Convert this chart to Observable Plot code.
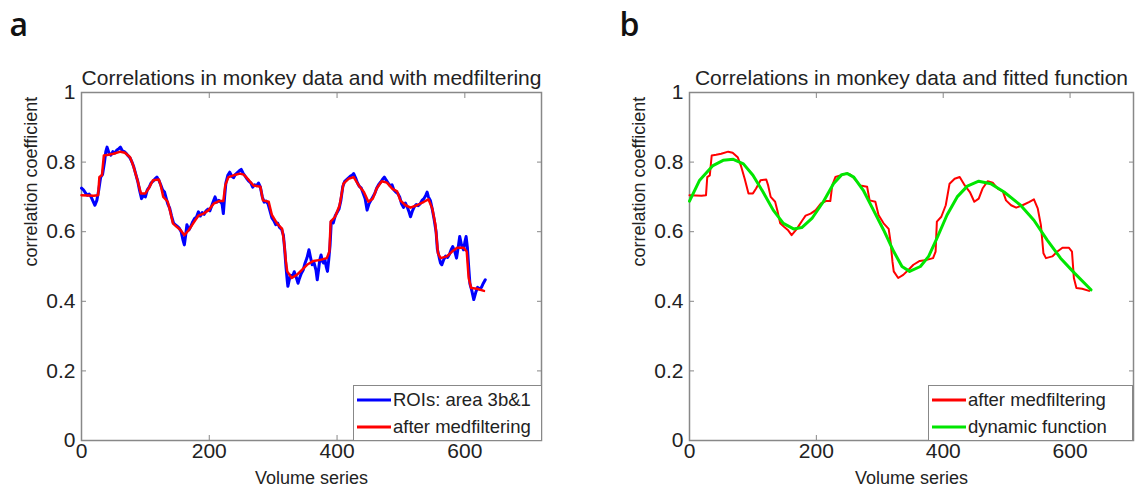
<!DOCTYPE html>
<html><head><meta charset="utf-8">
<script src="https://cdn.jsdelivr.net/npm/d3@7"></script>
<script src="https://cdn.jsdelivr.net/npm/@observablehq/plot@0.6"></script>
<style>
body{margin:0;background:#fff;}
#root{position:relative;width:1139px;height:496px;overflow:hidden;font-family:"Liberation Sans",Arial,sans-serif;}
.panel{position:absolute;top:0;}
.legend{position:absolute;box-sizing:border-box;border:1.5px solid #888;background:#fff;font-family:"Liberation Sans",Arial,sans-serif;font-size:18.5px;color:#222;}
.row{position:absolute;left:0;display:flex;align-items:center;white-space:nowrap;}
.row svg{display:block;margin-left:3px;margin-right:2px;}
</style></head>
<body><div id="root"></div>
<script>
// ---------- data ----------
const panelTags = ["a", "b"];
const titles = ["Correlations in monkey data and with medfiltering", "Correlations in monkey data and fitted function"];
const xLabel = "Volume series";
const yLabel = "correlation coefficient";
const xTicks = [0, 200, 400, 600];
const yTicks = [0, 0.2, 0.4, 0.6, 0.8, 1];
const legendA = ["ROIs: area 3b&1", "after medfiltering"];
const legendB = ["after medfiltering", "dynamic function"];

// raw correlation series (blue)
const rawX = [0,3,6,9,12,15,18,21,24,27,30,33,36,38,40,43,46,49,52,55,58,61,64,67,70,73,76,79,82,85,88,91,94,97,100,103,106,109,112,115,118,121,124,127,130,132,135,138,141,144,147,150,153,156,159,161,163,165,168,171,174,177,180,183,186,189,192,195,198,201,204,207,209,212,215,218,220,222,224,226,229,232,235,238,241,244,247,250,253,256,259,262,265,268,271,274,277,280,283,286,289,292,295,298,301,304,307,310,313,316,318,320,322,323,325,327,330,333,336,339,341,344,347,350,353,356,358,361,364,367,369,371,373,375,377,379,381,383,385,387,389,391,394,397,400,403,406,409,412,415,418,421,424,426,429,432,435,438,441,444,447,450,453,456,459,462,465,468,471,474,477,480,483,486,489,492,495,498,501,504,507,510,513,515,518,521,524,527,530,533,536,539,541,543,546,549,552,555,557,560,562,564,567,570,573,576,579,581,584,587,590,592,595,598,600,602,604,606,608,611,614,617,620,623,626,629,632];
const rawY = [0.725,0.72,0.712,0.705,0.708,0.70,0.688,0.676,0.69,0.72,0.757,0.765,0.80,0.83,0.843,0.826,0.82,0.83,0.826,0.834,0.838,0.843,0.832,0.83,0.825,0.818,0.812,0.80,0.785,0.765,0.745,0.718,0.695,0.705,0.70,0.72,0.728,0.74,0.745,0.752,0.757,0.748,0.735,0.72,0.714,0.70,0.68,0.668,0.645,0.625,0.62,0.615,0.61,0.60,0.575,0.562,0.59,0.62,0.605,0.615,0.628,0.638,0.642,0.657,0.645,0.655,0.65,0.66,0.665,0.66,0.675,0.69,0.70,0.685,0.69,0.685,0.68,0.652,0.70,0.74,0.762,0.771,0.76,0.755,0.765,0.77,0.775,0.779,0.768,0.76,0.752,0.745,0.74,0.728,0.735,0.732,0.74,0.728,0.70,0.685,0.688,0.68,0.66,0.64,0.632,0.62,0.625,0.612,0.608,0.59,0.55,0.50,0.46,0.443,0.46,0.475,0.47,0.485,0.47,0.452,0.465,0.48,0.49,0.51,0.525,0.548,0.53,0.505,0.51,0.49,0.462,0.49,0.52,0.533,0.515,0.51,0.52,0.50,0.486,0.52,0.56,0.63,0.625,0.645,0.655,0.665,0.69,0.73,0.745,0.75,0.755,0.76,0.763,0.767,0.755,0.74,0.73,0.725,0.71,0.695,0.662,0.68,0.69,0.70,0.71,0.725,0.735,0.742,0.75,0.757,0.748,0.74,0.732,0.735,0.72,0.714,0.71,0.70,0.68,0.67,0.682,0.67,0.655,0.643,0.66,0.672,0.678,0.675,0.68,0.69,0.695,0.705,0.714,0.70,0.69,0.665,0.635,0.60,0.55,0.525,0.51,0.505,0.52,0.53,0.526,0.535,0.55,0.557,0.545,0.524,0.56,0.586,0.56,0.548,0.57,0.586,0.555,0.50,0.45,0.43,0.405,0.425,0.44,0.435,0.44,0.452,0.462];

// median-filtered series (red)
const medX = [0,19,26,28,32,35,42,50,61,68,76,81,87,93,100,105,112,121,124,128,135,139,143,149,155,161,168,173,178,183,191,199,207,215,222,225,230,238,248,254,262,269,280,284,293,298,306,314,317,320,322,329,337,345,353,363,374,384,388,390,397,404,410,418,426,434,442,449,456,462,470,478,486,494,499,507,515,525,536,543,549,554,558,562,572,580,588,598,603,606,610,619,630];
const medY = [0.705,0.703,0.705,0.757,0.762,0.819,0.821,0.824,0.830,0.827,0.814,0.790,0.752,0.710,0.710,0.724,0.748,0.750,0.733,0.700,0.686,0.657,0.624,0.614,0.605,0.590,0.605,0.619,0.633,0.646,0.652,0.662,0.681,0.688,0.688,0.733,0.757,0.762,0.767,0.764,0.748,0.733,0.729,0.690,0.686,0.648,0.624,0.608,0.571,0.514,0.486,0.467,0.476,0.490,0.505,0.516,0.519,0.524,0.543,0.629,0.643,0.676,0.738,0.752,0.757,0.733,0.714,0.686,0.695,0.724,0.745,0.741,0.724,0.716,0.690,0.676,0.669,0.676,0.686,0.693,0.667,0.619,0.538,0.524,0.529,0.543,0.554,0.554,0.543,0.467,0.438,0.436,0.430];

// fitted dynamic function (green)
const fitX = [0,16,37,53,69,85,100,116,132,148,164,177,193,211,227,240,249,259,274,290,306,322,335,347,364,377,390,406,422,438,456,475,496,522,543,564,585,607,633];
const fitY = [0.688,0.748,0.790,0.805,0.808,0.795,0.762,0.714,0.662,0.624,0.608,0.612,0.638,0.686,0.738,0.764,0.767,0.757,0.719,0.662,0.605,0.543,0.500,0.486,0.500,0.529,0.581,0.648,0.700,0.731,0.745,0.738,0.714,0.676,0.633,0.576,0.524,0.481,0.433];

// ---------- build ----------
const toRows = (xs, ys) => xs.map((x, i) => ({x, y: ys[i]}));
const raw = toRows(rawX, rawY), med = toRows(medX, medY), fit = toRows(fitX, fitY);
const BLUE = "#0000ff", RED = "#ff0000", GREEN = "#00e600";
const FONT = "Liberation Sans, Arial, sans-serif";
const AX = "#888";

function makePanel({tag, title, xMax, marginLeft, marginRight, lines}) {
  return Plot.plot({
    width: 570, height: 496,
    marginTop: 92, marginBottom: 56, marginLeft, marginRight,
    x: {domain: [0, xMax]},
    y: {domain: [0, 1]},
    style: {fontFamily: FONT, color: "#222", background: "transparent", overflow: "visible"},
    marks: [
      Plot.frame({stroke: AX, strokeWidth: 1.5}),
      Plot.axisX({ticks: xTicks, tickSize: -5, tickPadding: 8, fontSize: 21, label: null, stroke: AX}),
      Plot.axisX({anchor: "top", ticks: xTicks, tickSize: -5, tickFormat: () => "", label: null, stroke: AX}),
      Plot.axisY({ticks: yTicks, tickSize: -5, tickPadding: 11, fontSize: 21, label: null, stroke: AX, tickFormat: d => String(d)}),
      Plot.axisY({anchor: "right", ticks: yTicks, tickSize: -5, tickFormat: () => "", label: null, stroke: AX}),
      ...lines.map(l => Plot.line(l.data, {x: "x", y: "y", stroke: l.color, strokeWidth: l.width, strokeLinejoin: "round"})),
      Plot.text([title], {frameAnchor: "top", dy: -22, fontSize: 21, fill: "#222", fontFamily: FONT}),
      Plot.text([xLabel], {frameAnchor: "bottom", dy: 43, fontSize: 18, fill: "#222", fontFamily: FONT}),
      Plot.text([yLabel], {frameAnchor: "left", rotate: -90, dx: -50, fontSize: 18, fill: "#222", fontFamily: FONT}),
      Plot.text([tag], {frameAnchor: "top-left", textAnchor: "start", lineAnchor: "bottom", dx: tag === "a" ? -72 : -70, dy: -57, fontSize: 32, fontWeight: 600, fill: "#111", fontFamily: "Open Sans, Lato, sans-serif"})
    ]
  });
}

const root = document.getElementById("root");
function place(node, left) {
  node.classList.add("panel");
  node.style.left = left + "px";
  root.appendChild(node);
}
place(makePanel({tag: panelTags[0], title: titles[0], xMax: 720, marginLeft: 81, marginRight: 29,
  lines: [{data: raw, color: BLUE, width: 3}, {data: med, color: RED, width: 2.5}]}), 0);
place(makePanel({tag: panelTags[1], title: titles[1], xMax: 700, marginLeft: 119, marginRight: 7,
  lines: [{data: med, color: RED, width: 2}, {data: fit, color: GREEN, width: 3}]}), 570);

function legend(left, top, width, height, labels, colors) {
  const box = document.createElement("div");
  box.className = "legend";
  Object.assign(box.style, {left: left + "px", top: top + "px", width: width + "px", height: height + "px"});
  labels.forEach((lab, i) => {
    const row = document.createElement("div");
    row.className = "row";
    row.style.top = (i === 0 ? 3 : 30) + "px";
    row.style.height = "22px";
    row.innerHTML = `<svg width="34" height="6"><line x1="0" y1="3" x2="34" y2="3" stroke="${colors[i]}" stroke-width="3"/></svg>`;
    const s = document.createElement("span");
    s.textContent = lab;
    row.appendChild(s);
    box.appendChild(row);
  });
  root.appendChild(box);
}
legend(353, 385, 189, 56, legendA, [BLUE, RED]);
legend(928, 385, 205, 56, legendB, [RED, GREEN]);
</script>
</body></html>
